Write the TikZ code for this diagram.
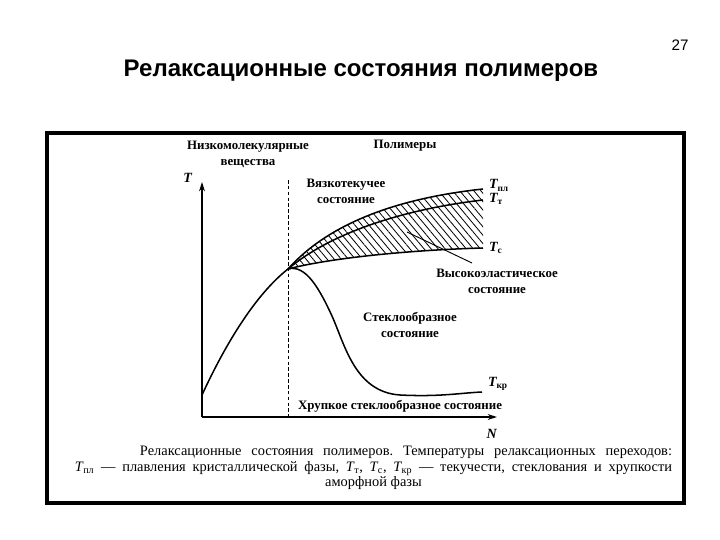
\documentclass[tikz,border=0pt]{standalone}
\usepackage{fontspec}
\setmainfont{Liberation Serif}
\newfontfamily\headfont{Liberation Sans}
\usepackage{tikz}
\usetikzlibrary{arrows.meta}
\usetikzlibrary{patterns.meta}
\usetikzlibrary{positioning}
\frenchspacing
\newcommand{\Tlab}[1]{\textit{T}\kern-0.5pt\textsubscript{#1}}
\tikzset{
    curve/.style={draw=black,line width=1.3pt},
    axis/.style={draw=black,line width=1pt,-{Stealth[length=8pt,width=5pt]}},
    stlabel/.style={font=\fontsize{11}{13.5}\selectfont\bfseries, align=center, inner sep=0pt},
    tlabel/.style={font=\fontsize{12}{13}\selectfont\bfseries, anchor=west, inner sep=0pt},
    hatch/.style={pattern={Lines[angle=-50,distance=4.6pt,line width=0.7pt]}},
    frame/.style={draw=black,line width=2.6pt}
  }

\begin{document}
\begin{tikzpicture}[x=0.03cm,y=-0.03cm]
  \useasboundingbox (0,0) rectangle (720,540);
  %Heading
      \node[font=\headfont\fontsize{20.5}{22}\selectfont\bfseries] (title) at (361,71) {Релаксационные состояния полимеров};
      \node[font=\headfont\fontsize{13}{15}\selectfont] (page) at (680,45) {27};
  %Frame
      \draw[frame] (47,133) rectangle (684,503);
  %Axes
      \coordinate (O) at (202,417);
      \coordinate (Ttop) at (202,182);
      \coordinate (Nend) at (497,417);
      \draw[axis] (O) -- (Ttop);
      \draw[axis] (O) -- (Nend);
      \node[tlabel, anchor=center] (Taxis) at (188,178) {\textit{T}};
      \node[tlabel, anchor=center] (Naxis) at (492,434) {\textit{N}};
  %Border line low molecular / polymers
      \coordinate (Dtop) at (288,180);
      \coordinate (Dbot) at (288,417);
      \draw[line width=0.8pt,dash pattern=on 3pt off 2pt] (Dtop) -- (Dbot);
  %Curve points
      \coordinate (S) at (202,395);
      \coordinate (J) at (288,269);
      \coordinate (Tpl) at (483,189);
      \coordinate (Tt) at (483,200);
      \coordinate (Tc) at (483,248);
      \coordinate (Tkr) at (482,392);
  %Hatched region
      \path[hatch] (J) .. controls (330,222) and (400,198) .. (Tpl) -- (Tc)
            .. controls (410,250) and (330,258) .. (J) -- cycle;
  %Low molecular curve
      \draw[curve] (S) .. controls (225,345) and (255,295) .. (J);
  %Melting
      \draw[curve] (J) .. controls (330,222) and (400,198) .. (Tpl);
  %Flow
      \draw[curve] (J) .. controls (332,232) and (405,209) .. (Tt);
  %Glass
      \draw[curve] (J) .. controls (330,258) and (410,250) .. (Tc);
  %Brittleness
      \draw[curve] (J) .. controls (306,264) and (320,290) .. (332,316)
            .. controls (345,345) and (355,392) .. (400,395)
            .. controls (440,397) and (460,393) .. (Tkr);
  %Temperature labels
      \node[tlabel, right=5pt of Tpl, yshift=3pt] (lpl) {\Tlab{пл}};
      \node[tlabel, right=5pt of Tt, yshift=1pt] (lt) {\Tlab{т}};
      \node[tlabel, right=5pt of Tc] (lc) {\Tlab{с}};
      \node[tlabel, right=5pt of Tkr, yshift=7pt] (lkr) {\Tlab{кр}};
  %State labels
      \node[stlabel] (lowmol) at (248,154) {Низкомолекулярные\\вещества};
      \node[stlabel] (polym) at (405,146) {Полимеры};
      \node[stlabel] (visc) at (346,191) {Вязкотекучее\\состояние};
      \node[stlabel] (highel) at (497,281) {Высокоэластическое\\состояние};
      \node[stlabel] (glass) at (410,325) {Стеклообразное\\состояние};
      \node[stlabel] (brittle) at (400,406) {Хрупкое стеклообразное состояние};
  %Leader
      \coordinate (hin) at (407,232);
      \coordinate (hout) at (472,263);
      \draw[line width=0.8pt] (hin) -- (hout);
  %Caption
      \node[font=\fontsize{12.3}{13.2}\selectfont, align=center, inner sep=0pt] (caption) at (373.5,468)
      {\makebox[17.91cm][r]{\makebox[15.96cm][s]{Релаксационные состояния полимеров. Температуры релаксационных переходов:}}\\
       \makebox[17.91cm][s]{\Tlab{пл} — плавления кристаллической фазы, \Tlab{т}, \Tlab{с}, \Tlab{кр} — текучести, стеклования и хрупкости}\\
       аморфной фазы};
\end{tikzpicture}
\end{document}
